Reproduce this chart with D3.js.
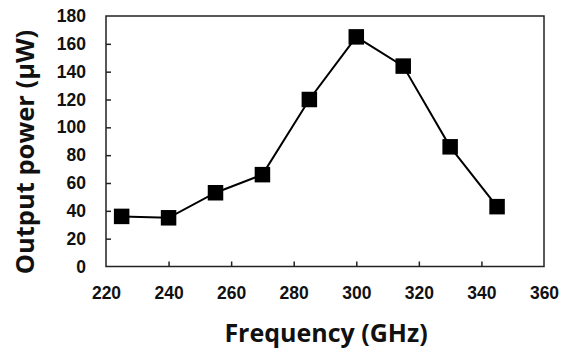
<!DOCTYPE html>
<html>
<head>
<meta charset="utf-8">
<script src="https://cdn.jsdelivr.net/npm/d3@7"></script>
<style>
  body { margin: 0; background: #fff; }
  svg { display: block; font-family: "Open Sans", "DejaVu Sans", sans-serif; }
</style>
</head>
<body>
<svg width="562" height="351"></svg>
<script>
// data
const freqs = [225, 240, 255, 270, 285, 300, 315, 330, 345];
const powers = [36, 35, 53, 66, 120, 165, 144, 86, 43];
const xTicks = [220, 240, 260, 280, 300, 320, 340, 360];
const yTicks = [0, 20, 40, 60, 80, 100, 120, 140, 160, 180];

const svg = d3.select('svg');
const plotL = 106, plotR = 544, plotT = 16, plotB = 266.5;

const xScale = d3.scaleLinear().domain([220, 360]).range([plotL, plotR]);
const yScale = d3.scaleLinear().domain([0, 180]).range([plotB, plotT]);

// frame
svg.append('rect')
  .attr('x', plotL).attr('y', plotT)
  .attr('width', plotR - plotL).attr('height', plotB - plotT)
  .attr('fill', 'none').attr('stroke', '#222').attr('stroke-width', 1.5);

// inward ticks
const axisX = d3.axisBottom(xScale).tickValues(xTicks).tickSize(-5).tickPadding(20).tickFormat(d3.format('d'));
const gx = svg.append('g').attr('transform', 'translate(0,' + plotB + ')').call(axisX);
const axisY = d3.axisLeft(yScale).tickValues(yTicks).tickSize(-5).tickPadding(20).tickFormat(d3.format('d'));
const gy = svg.append('g').attr('transform', 'translate(' + plotL + ',0)').call(axisY);

[gx, gy].forEach(g => {
  g.select('.domain').remove();
  g.selectAll('.tick line').attr('stroke', '#222').attr('stroke-width', 1.5);
  g.selectAll('.tick text').attr('fill', '#111').style('font-size', '17.5px').style('font-weight', 'bold');
});
// hide end ticks that sit on the frame
gx.selectAll('.tick line').filter(d => d === 220 || d === 360).remove();
gy.selectAll('.tick line').filter(d => d === 0 || d === 180).remove();

// line and markers
const pts = freqs.map((f, i) => ({ f: f, p: powers[i] }));
svg.append('path').datum(pts)
  .attr('fill', 'none').attr('stroke', '#000').attr('stroke-width', 2)
  .attr('d', d3.line().x(d => xScale(d.f)).y(d => yScale(d.p)));

const ms = 15.5;
svg.selectAll('rect.mk').data(pts).enter().append('rect')
  .attr('class', 'mk')
  .attr('x', d => xScale(d.f) - ms / 2).attr('y', d => yScale(d.p) - ms / 2)
  .attr('width', ms).attr('height', ms).attr('fill', '#000');

// titles
svg.append('text')
  .attr('x', 326).attr('y', 342)
  .attr('text-anchor', 'middle')
  .style('font-size', '25px').style('font-weight', 'bold').attr('fill', '#111')
  .text('Frequency (GHz)');
svg.append('text')
  .attr('transform', 'translate(34,152) rotate(-90)')
  .attr('text-anchor', 'middle')
  .style('font-size', '25.5px').style('font-weight', 'bold').attr('fill', '#111')
  .text('Output power (μW)');
</script>
</body>
</html>
